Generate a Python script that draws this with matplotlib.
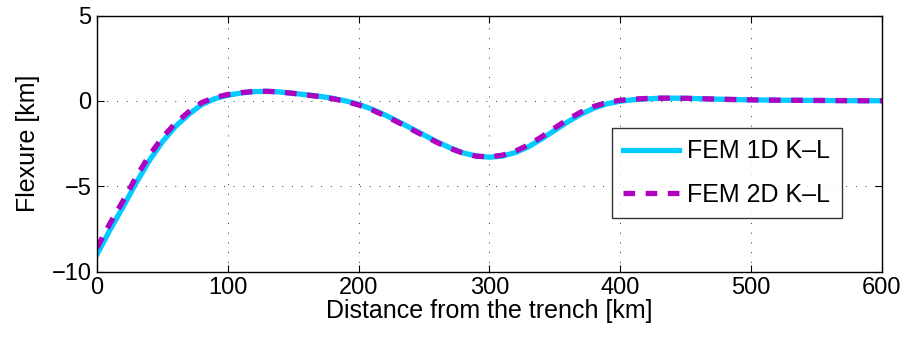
import numpy as np
import matplotlib.pyplot as plt

plt.rcParams['font.family'] = ['Liberation Sans', 'DejaVu Sans']

# distance from the trench [km]
dist = [0, 10, 20, 30, 40, 50, 60, 70, 80, 90, 100, 110, 120, 130, 140, 150,
        160, 170, 180, 190, 200, 210, 220, 230, 240, 250, 260, 270, 280, 290,
        300, 310, 320, 330, 340, 350, 360, 370, 380, 390, 400, 410, 420, 430,
        440, 450, 460, 470, 480, 500, 520, 540, 560, 580, 600]

# flexure [km]
fem_1d = [-9.0, -7.55, -6.2, -4.8, -3.5, -2.4, -1.5, -0.8, -0.22, 0.13, 0.33,
          0.46, 0.54, 0.56, 0.52, 0.44, 0.36, 0.27, 0.15, 0.0, -0.2, -0.48,
          -0.82, -1.2, -1.6, -2.0, -2.4, -2.75, -3.05, -3.23, -3.3, -3.23,
          -3.02, -2.68, -2.22, -1.72, -1.22, -0.78, -0.42, -0.17, -0.02, 0.07,
          0.12, 0.15, 0.16, 0.15, 0.13, 0.11, 0.09, 0.06, 0.04, 0.03, 0.02,
          0.01, 0.01]
fem_2d = [-8.6, -7.17, -5.85, -4.45, -3.2, -2.15, -1.3, -0.65, -0.1, 0.2, 0.37,
          0.48, 0.55, 0.56, 0.52, 0.44, 0.35, 0.25, 0.13, -0.03, -0.24, -0.52,
          -0.87, -1.25, -1.65, -2.05, -2.44, -2.78, -3.07, -3.24, -3.28, -3.18,
          -2.94, -2.57, -2.1, -1.58, -1.08, -0.65, -0.32, -0.09, 0.04, 0.1,
          0.14, 0.16, 0.16, 0.15, 0.13, 0.11, 0.09, 0.06, 0.04, 0.03, 0.02,
          0.01, 0.01]

fig = plt.figure(figsize=(9.06, 3.37), dpi=100)
ax = fig.add_axes([0.107, 0.194, 0.8665, 0.76])

ax.plot(dist, fem_1d, color='#00ccff', linewidth=3.8, label='FEM 1D K\u2013L')
ax.plot(dist, fem_2d, color='#b000c0', linewidth=3.8, linestyle=(0, (2.2, 2.0)),
        label='FEM 2D K\u2013L')

ax.set_xlim(0, 600)
ax.set_ylim(-10, 5)
ax.set_xticks([0, 100, 200, 300, 400, 500, 600])
ax.set_yticks([-10, -5, 0, 5])
ax.set_yticklabels(['\u221210', '\u22125', '0', '5'])
ax.tick_params(direction='in', top=True, right=True, labelsize=17, length=5, pad=4)
ax.grid(True, linestyle=(0, (1, 9)), color='#333333', linewidth=0.7)
for s in ax.spines.values():
    s.set_linewidth(1.0)

ax.set_xlabel('Distance from the trench [km]', fontsize=18, labelpad=0)
ax.set_ylabel('Flexure [km]', fontsize=18, labelpad=8)

leg = ax.legend(loc='upper left', bbox_to_anchor=(0.656, 0.56), borderaxespad=0,
                fontsize=18, frameon=True, fancybox=False, edgecolor='black',
                handlelength=2.25, handletextpad=0.32, borderpad=0.45,
                labelspacing=0.78)
leg.get_frame().set_linewidth(1.0)

fig.savefig('out.png', dpi=100)
